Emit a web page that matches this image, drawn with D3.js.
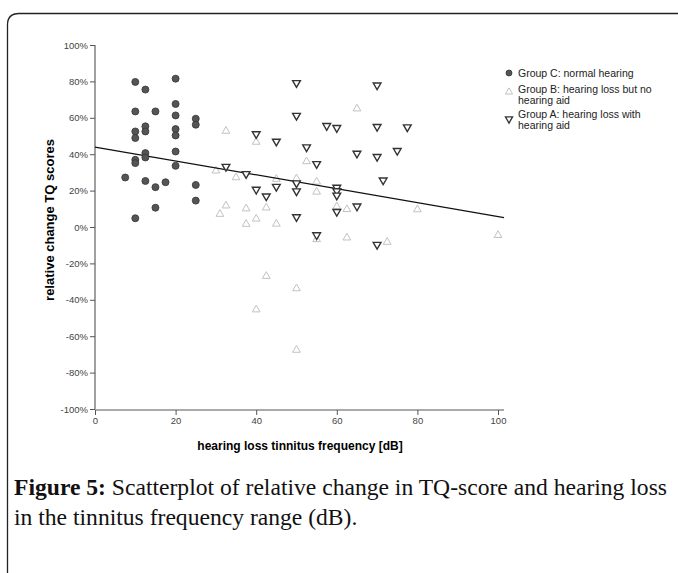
<!DOCTYPE html>
<html>
<head>
<meta charset="utf-8">
<script src="https://cdn.jsdelivr.net/npm/d3@7"></script>
<style>
	body { margin: 0; background: #fff; }
	#chart { width: 678px; height: 573px; }
	text { font-family: "Liberation Sans", Arial, sans-serif; }
	.caption text { font-family: "Liberation Serif", "Times New Roman", serif; }
</style>
</head>
<body>
<div id="chart"></div>
<script>

// [hearing loss dB, relative change TQ %]
const groupC = [
	[7.5, 27.2],
	[10, 79.7], [10, 63.5], [10, 52.5], [10, 48.9], [10, 36.9], [10, 35.1], [10, 4.8],
	[12.5, 75.5], [12.5, 55.3], [12.5, 52.5], [12.5, 40.6], [12.5, 38.2], [12.5, 25.3],
	[15, 63.5], [15, 21.9], [15, 10.6],
	[17.5, 24.6],
	[20, 81.5], [20, 67.6], [20, 61.3], [20, 53.8], [20, 50.3], [20, 41.5], [20, 33.6],
	[25, 59.5], [25, 56.2], [25, 23.1], [25, 14.5]
];

const groupB = [
	[30, 30.9], [31, 7.1], [32.5, 52.7], [32.5, 11.7], [35, 27.2],
	[37.5, 10.1], [37.5, 1.6], [40, 46.7], [40, 4.5], [40, -45.4],
	[42.5, 10.6], [42.5, -27.0], [45, 26.3], [45, 1.7], [50, 26.6],
	[50, -33.8], [50, -67.6], [52.5, 36.0], [55, 24.8], [55, 19.3],
	[55, -6.8], [60, 11.2], [62.5, 9.7], [62.5, -5.9], [65, 65.0],
	[72.5, -8.3], [80, 9.6], [100, -4.5]
];

const groupA = [
	[32.5, 33.2], [37.5, 29.2], [40, 51.1], [40, 20.6], [42.5, 16.9],
	[45, 47.0], [45, 22.2], [50, 79.2], [50, 61.2], [50, 24.1],
	[50, 19.7], [50, 5.5], [52.5, 43.9], [55, 34.7], [55, -4.4],
	[57.5, 55.6], [60, 54.5], [60, 21.7], [60, 19.8], [60, 17.4],
	[60, 8.4], [65, 40.4], [65, 11.4], [70, 77.9], [70, 55.1],
	[70, 38.6], [70, -9.7], [71.5, 25.7], [75, 41.9], [77.5, 54.9]
];

// linear fit line at both ends
const fitLine = [[0, 43.9], [101.5, 5.2]];

const xTicks = [0, 20, 40, 60, 80, 100];
const yTicks = [-100, -80, -60, -40, -20, 0, 20, 40, 60, 80, 100];

const legendLabels = [
	["Group C: normal hearing"],
	["Group B: hearing loss but no", "hearing aid"],
	["Group A: hearing loss with", "hearing aid"]
];

const captionBold = "Figure 5:";
const captionLines = [
	" Scatterplot of relative change in TQ-score and hearing loss",
	"in the tinnitus frequency range (dB)."
];


class ScatterPlot {

	constructor(parentElement) {
		this.parentElement = parentElement;
		this.initVis();
	}

	initVis() {
		let vis = this;

		vis.width = 678;
		vis.height = 573;

		vis.svg = d3.select(vis.parentElement).append("svg")
			.attr("width", vis.width)
			.attr("height", vis.height);

		// figure frame, only the top-left corner is visible
		vis.svg.append("path")
			.attr("d", "M7.5,580 L7.5,25 Q7.5,13.5 19,13.5 L690,13.5")
			.attr("fill", "none")
			.attr("stroke", "#222")
			.attr("stroke-width", 1.3);

		// Scales
		vis.x = d3.scaleLinear()
			.domain([0, 100])
			.range([95, 498]);

		vis.y = d3.scaleLinear()
			.domain([-100, 100])
			.range([409, 45]);

		vis.drawAxes();
		vis.drawPoints();
		vis.drawLegend();
		vis.drawCaption();
	}

	drawAxes() {
		let vis = this;

		// y axis
		let yAxis = d3.axisLeft(vis.y)
			.tickValues(yTicks)
			.tickSize(5)
			.tickPadding(2)
			.tickFormat(d => d + "%");

		let yGroup = vis.svg.append("g")
			.attr("transform", "translate(" + vis.x(0) + ",0)")
			.call(yAxis);

		yGroup.select(".domain")
			.attr("d", "M0," + vis.y(100) + "V" + (vis.y(-100) + 1))
			.attr("stroke", "#888")
			.attr("stroke-width", 1.6);

		// x axis
		let xAxis = d3.axisBottom(vis.x)
			.tickValues(xTicks)
			.tickSize(5)
			.tickPadding(2);

		let xGroup = vis.svg.append("g")
			.attr("transform", "translate(0," + (vis.y(-100) + 1) + ")")
			.call(xAxis);

		xGroup.select(".domain")
			.attr("d", "M" + vis.x(0) + ",0H" + vis.x(101.5))
			.attr("stroke", "#aaa")
			.attr("stroke-width", 2);

		vis.svg.selectAll(".tick line")
			.attr("stroke", "#555");

		vis.svg.selectAll(".tick text")
			.attr("fill", "#444")
			.style("font-size", "9.5px");

		// axis titles
		vis.svg.append("text")
			.attr("x", 300)
			.attr("y", 450)
			.attr("text-anchor", "middle")
			.style("font-size", "12px")
			.style("font-weight", "bold")
			.text("hearing loss tinnitus frequency [dB]");

		vis.svg.append("text")
			.attr("transform", "translate(54,220) rotate(-90)")
			.attr("text-anchor", "middle")
			.style("font-size", "13px")
			.style("font-weight", "bold")
			.text("relative change TQ scores");
	}

	drawPoints() {
		let vis = this;

		let tri = d3.symbol().type(d3.symbolTriangle).size(26);

		// Group B - light up triangles
		vis.svg.append("g").selectAll("path")
			.data(groupB)
			.enter().append("path")
			.attr("d", tri)
			.attr("transform", d => "translate(" + vis.x(d[0]) + "," + vis.y(d[1]) + ")")
			.attr("fill", "#fff")
			.attr("stroke", "#c2c2c2")
			.attr("stroke-width", 1);

		// fit line
		vis.svg.append("path")
			.datum(fitLine)
			.attr("d", d3.line().x(d => vis.x(d[0])).y(d => vis.y(d[1])))
			.attr("fill", "none")
			.attr("stroke", "#111")
			.attr("stroke-width", 1.2);

		// Group A - dark down triangles
		vis.svg.append("g").selectAll("path")
			.data(groupA)
			.enter().append("path")
			.attr("d", tri)
			.attr("transform", d => "translate(" + vis.x(d[0]) + "," + vis.y(d[1]) + ") rotate(180)")
			.attr("fill", "#fff")
			.attr("stroke", "#333")
			.attr("stroke-width", 1.4);

		// Group C - filled circles
		vis.svg.append("g").selectAll("circle")
			.data(groupC)
			.enter().append("circle")
			.attr("cx", d => vis.x(d[0]))
			.attr("cy", d => vis.y(d[1]))
			.attr("r", 3.5)
			.attr("fill", "#555")
			.attr("stroke", "#333")
			.attr("stroke-width", 0.8);
	}

	drawLegend() {
		let vis = this;

		let tri = d3.symbol().type(d3.symbolTriangle).size(22);
		let markerY = [73, 92, 119];
		let textY = [76.5, 92.5, 117.5];

		let legend = vis.svg.append("g");

		legend.append("circle")
			.attr("cx", 509).attr("cy", markerY[0]).attr("r", 3)
			.attr("fill", "#555").attr("stroke", "#333").attr("stroke-width", 0.8);

		legend.append("path")
			.attr("d", tri)
			.attr("transform", "translate(509," + markerY[1] + ")")
			.attr("fill", "#fff").attr("stroke", "#c2c2c2");

		legend.append("path")
			.attr("d", tri)
			.attr("transform", "translate(509," + markerY[2] + ") rotate(180)")
			.attr("fill", "#fff").attr("stroke", "#333").attr("stroke-width", 1.3);

		legendLabels.forEach(function(lines, i) {
			let t = legend.append("text")
				.attr("x", 518)
				.attr("y", textY[i])
				.attr("fill", "#222")
				.style("font-size", "10.5px");
			lines.forEach(function(line, j) {
				t.append("tspan")
					.attr("x", 518)
					.attr("dy", j === 0 ? 0 : 11)
					.text(line);
			});
		});
	}

	drawCaption() {
		let vis = this;

		let cap = vis.svg.append("g").attr("class", "caption");

		let line1 = cap.append("text")
			.attr("x", 14)
			.attr("y", 495)
			.style("font-size", "23.6px")
			.attr("fill", "#111");
		line1.append("tspan").style("font-weight", "bold").text(captionBold);
		line1.append("tspan").text(captionLines[0]);

		cap.append("text")
			.attr("x", 14)
			.attr("y", 525)
			.style("font-size", "23.6px")
			.attr("fill", "#111")
			.text(captionLines[1]);
	}
}

new ScatterPlot(document.getElementById("chart"));

</script>
</body>
</html>
